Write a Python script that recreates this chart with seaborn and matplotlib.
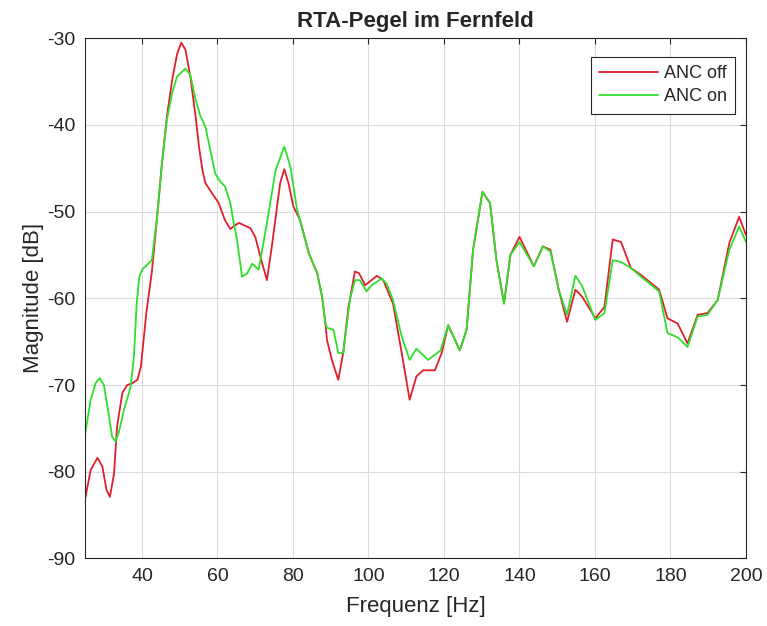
import numpy as np
import pandas as pd
import seaborn as sns
import matplotlib
matplotlib.use("Agg")
import matplotlib.pyplot as plt
from matplotlib.ticker import MultipleLocator

# Measured RTA levels (far field), ANC switched off
freq_off = [25.0, 26.4, 28.2, 29.5, 30.6, 31.5, 32.6, 33.4, 34.8, 36.1, 37.4, 38.8,
            39.7, 41.2, 42.6, 44.0, 45.3, 46.6, 48.0, 49.3, 50.4, 51.5, 52.8, 54.2,
            55.1, 56.0, 56.8, 58.6, 60.3, 62.0, 63.4, 64.5, 65.7, 68.7,
            70.0, 71.8, 73.1, 74.4, 76.6, 77.7, 78.8, 80.1, 81.9, 84.2, 86.4, 87.7,
            88.6, 89.0, 90.3, 92.0, 93.3, 94.7, 96.4, 97.5, 99.1, 100.8, 102.2, 103.9,
            106.5, 108.8, 110.9, 112.7, 114.5, 117.6, 119.4, 121.1, 124.2, 126.0, 127.7,
            130.2, 132.2, 133.9, 135.9, 137.6, 140.0, 143.8, 146.2, 148.2, 150.4, 152.6,
            154.8, 156.6, 160.1, 162.5, 164.7, 166.9, 169.5, 172.2, 177.0, 179.2, 181.9,
            184.5, 187.2, 189.8, 192.5, 195.6, 198.2, 200.0]
db_off = [-83.0, -79.8, -78.4, -79.4, -82.1, -82.9, -80.2, -74.8, -70.9, -70.0, -69.8, -69.4,
          -67.9, -61.5, -57.0, -50.6, -44.4, -39.0, -34.8, -31.8, -30.5, -31.3, -34.4, -39.0,
          -42.5, -45.2, -46.7, -47.9, -49.0, -51.0, -52.0, -51.6, -51.3, -51.9,
          -52.9, -55.9, -57.9, -54.0, -46.7, -45.1, -46.7, -49.4, -51.0, -54.8, -57.1, -59.8,
          -62.9, -64.8, -67.1, -69.4, -66.3, -61.0, -56.9, -57.1, -58.5, -57.9, -57.4, -57.9,
          -60.6, -66.3, -71.7, -69.0, -68.3, -68.3, -66.3, -63.1, -66.0, -63.6, -54.4,
          -47.7, -49.0, -55.6, -60.6, -55.0, -52.9, -56.3, -54.0, -54.4, -59.0, -62.7,
          -59.0, -59.8, -62.3, -61.0, -53.2, -53.5, -56.5, -57.3, -59.0, -62.3, -62.9,
          -65.2, -61.9, -61.7, -60.2, -53.6, -50.6, -52.7]

# Measured RTA levels (far field), ANC switched on
freq_on = [25.0, 26.4, 27.7, 28.8, 29.9, 31.0, 32.1, 33.0, 33.9, 35.2, 37.0, 37.9,
           38.6, 39.3, 40.0, 42.6, 44.0, 45.3, 46.6, 48.0, 49.3, 51.5, 52.8, 54.2,
           55.5, 56.8, 58.1, 59.4, 60.7, 62.0, 63.4, 64.3, 65.2, 66.5, 67.9,
           69.2, 70.9, 73.1, 75.4, 77.7, 79.3, 81.1, 84.2, 86.4, 87.7, 88.6, 89.0,
           90.7, 92.0, 93.3, 95.1, 96.4, 97.7, 99.5, 100.8, 103.5, 104.8, 106.5, 108.8,
           110.9, 112.7, 115.8, 119.1, 121.1, 124.2, 126.0, 127.7, 130.2, 132.2, 133.9,
           135.9, 137.6, 140.0, 143.8, 146.2, 148.2, 150.4, 152.6, 154.8, 156.6, 160.1,
           162.5, 164.7, 166.9, 169.5, 172.2, 177.0, 179.2, 181.9, 184.5, 187.2, 189.8,
           192.5, 195.6, 198.2, 200.0]
db_on = [-75.5, -71.7, -69.8, -69.2, -70.0, -72.9, -76.0, -76.5, -75.4, -72.9, -70.2, -66.5,
         -60.5, -57.5, -56.7, -55.6, -50.6, -44.4, -39.4, -36.3, -34.4, -33.5, -34.2, -37.1,
         -39.0, -40.2, -42.9, -45.6, -46.5, -47.1, -49.0, -51.3, -53.3, -57.5, -57.1,
         -56.0, -56.7, -51.3, -45.2, -42.5, -44.8, -49.8, -54.8, -57.1, -59.8, -62.9, -63.4,
         -63.6, -66.3, -66.3, -60.1, -57.9, -57.9, -59.2, -58.5, -57.7, -58.3, -60.2, -64.4,
         -67.1, -65.8, -67.1, -66.0, -63.1, -66.0, -63.6, -54.4, -47.7, -49.0, -55.6,
         -60.6, -55.0, -53.5, -56.3, -54.0, -54.6, -59.0, -61.9, -57.4, -58.6, -62.5,
         -61.7, -55.6, -55.8, -56.5, -57.5, -59.2, -64.0, -64.5, -65.6, -62.1, -61.9,
         -60.2, -54.4, -51.7, -53.5]

series_names = ["ANC off", "ANC on"]
series_colors = ["#e0202c", "#2ee02e"]

df = pd.concat([
    pd.DataFrame({"Frequenz": freq_off, "Pegel": db_off, "Messung": series_names[0]}),
    pd.DataFrame({"Frequenz": freq_on, "Pegel": db_on, "Messung": series_names[1]}),
], ignore_index=True)

sns.set_style("whitegrid")
plt.rcParams["font.family"] = ["Liberation Sans", "DejaVu Sans"]
plt.rcParams["axes.unicode_minus"] = False

fig = plt.figure(figsize=(7.67, 6.26), dpi=100)
ax = fig.add_axes([0.1113, 0.108, 0.8613, 0.8308])

sns.lineplot(data=df, x="Frequenz", y="Pegel", hue="Messung", hue_order=series_names,
             palette=series_colors, sort=True, estimator=None, linewidth=1.3, ax=ax)

ax.set_xlim(25, 200)
ax.set_ylim(-90, -30)
ax.xaxis.set_major_locator(MultipleLocator(20))
ax.yaxis.set_major_locator(MultipleLocator(10))
ax.grid(True, color="#dcdcdc", linewidth=0.8)
for side in ["top", "right", "bottom", "left"]:
    ax.spines[side].set_visible(True)
    ax.spines[side].set_color("#262626")
    ax.spines[side].set_linewidth(0.8)
ax.tick_params(direction="in", length=4, width=0.8, color="#262626",
               top=True, right=True, labelsize=14, labelcolor="#262626", pad=7)

ax.set_title("RTA-Pegel im Fernfeld", fontsize=16, fontweight="bold", pad=8)
ax.set_xlabel("Frequenz [Hz]", fontsize=16, color="#262626")
ax.set_ylabel("Magnitude [dB]", fontsize=16, color="#262626")
ax.xaxis.set_label_coords(0.5, -0.072)
ax.yaxis.set_label_coords(-0.062, 0.5)

leg = ax.legend(loc="upper right", bbox_to_anchor=(0.983, 0.964), fontsize=13,
                frameon=True, fancybox=False, borderpad=0.45, handlelength=3.3,
                handletextpad=0.3, labelspacing=0.35, borderaxespad=0.0)
leg.get_frame().set_edgecolor("#262626")
leg.get_frame().set_linewidth(0.8)
leg.get_frame().set_alpha(1)
leg.set_title(None)

fig.savefig("out.png", dpi=100)
